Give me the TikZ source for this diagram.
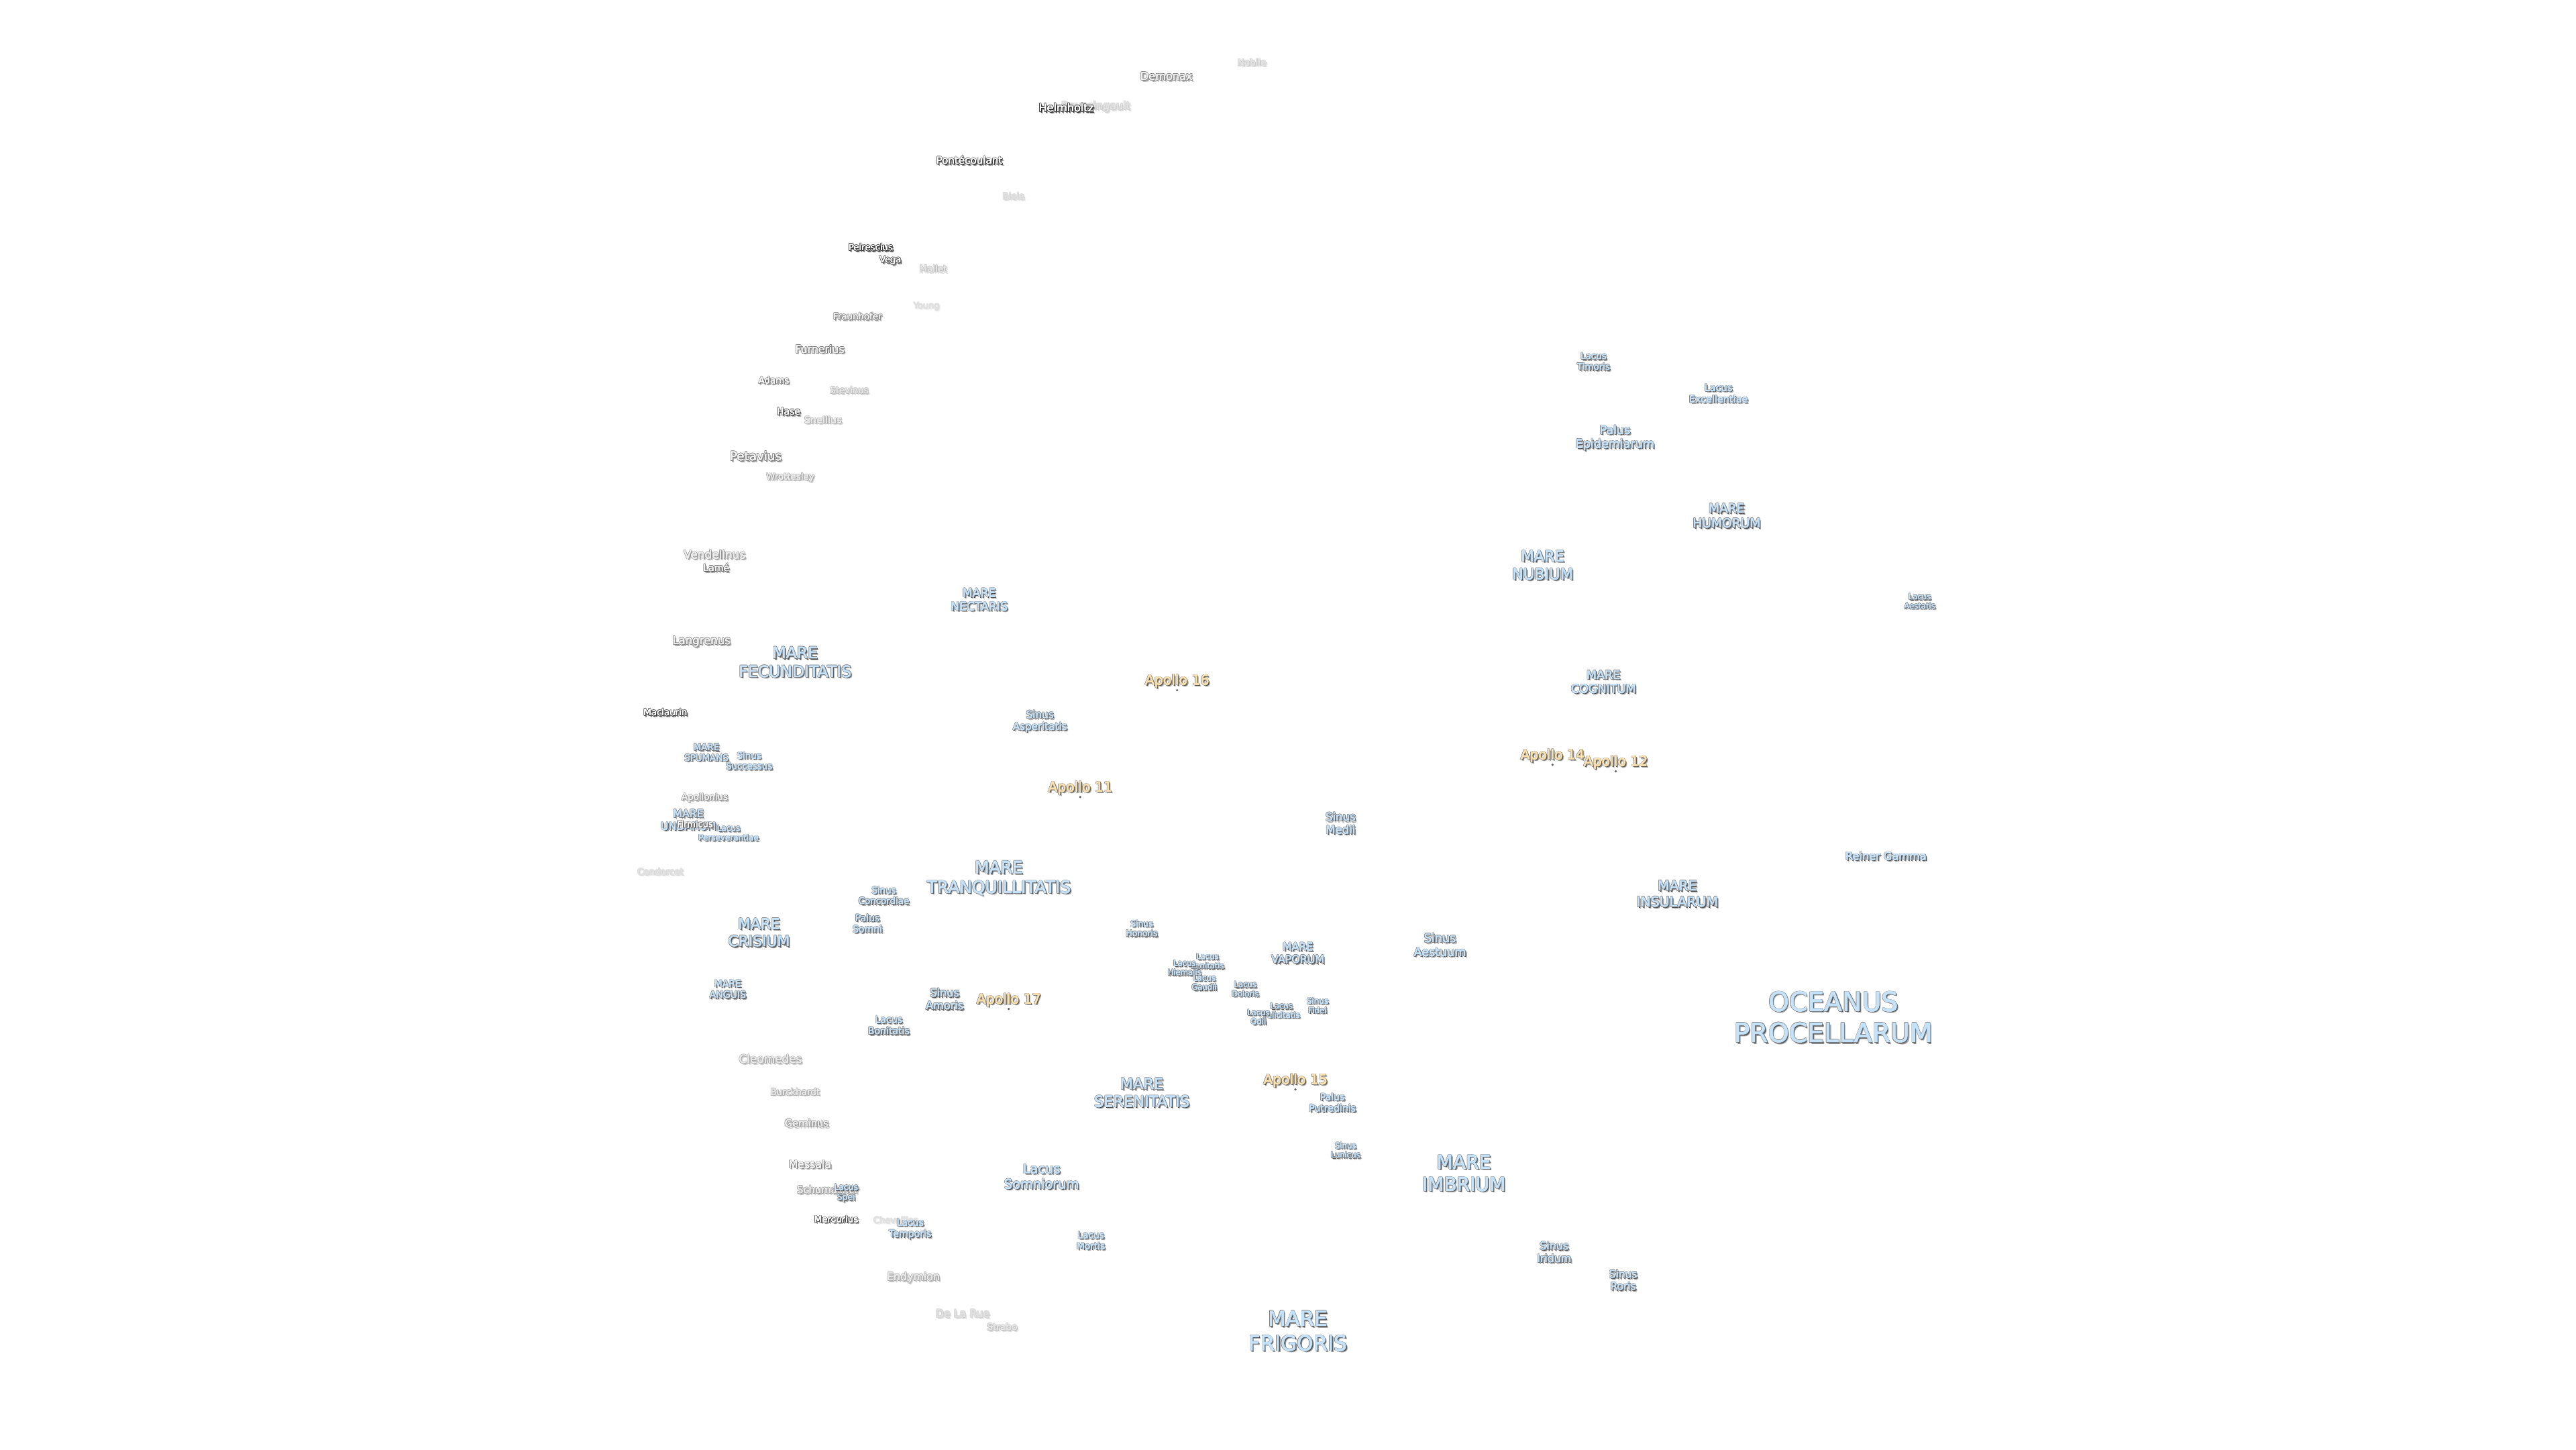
\documentclass[tikz,border=0pt]{standalone}
\usepackage{fontspec}
\setmainfont{DejaVu Sans}
\definecolor{oceanfill}{RGB}{196,226,250}
\definecolor{sitefill}{RGB}{250,224,172}
\tikzset{
  lbl/.style={inner sep=0pt, align=center, font=\fontsize{#1}{\fpeval{1.18*#1}}\selectfont},
  sitedot/.style={circle, inner sep=0pt, minimum size=1pt, fill=black!65},
}
% one label: soft shadow, hard shadow, halo of eight copies, fill on top
\newcommand{\lblstack}[5]{%
  \node[lbl=#4, text=lblsoft] at ([shift={(0.75pt,-0.75pt)}]#2,#3) {#5};
  \node[lbl=#4, text=lblshade] at ([shift={(0.45pt,-0.45pt)}]#2,#3) {#5};
  \foreach \hx/\hy in {0.27/0,-0.27/0,0/0.27,0/-0.27,0.19/0.19,-0.19/0.19,0.19/-0.19,-0.19/-0.19}
    \node[lbl=#4, text=lblhalo] at ([shift={(\hx pt,\hy pt)}]#2,#3) {#5};
  \foreach \hx/\hy in {0.07/0,-0.07/0,0/0.07,0/-0.07}
    \node[lbl=#4, text=lblfill] at ([shift={(\hx pt,\hy pt)}]#2,#3) {#5};
  \node[lbl=#4, text=lblfill] (#1) at (#2,#3) {#5};
}
\newcommand{\marelabel}[5]{%
  \colorlet{lblsoft}{black!35}\colorlet{lblshade}{black!70}\colorlet{lblhalo}{black!50}\colorlet{lblfill}{oceanfill}%
  \lblstack{#1}{#2}{#3}{#4}{#5}}
\newcommand{\sitelabel}[5]{%
  \colorlet{lblsoft}{black!35}\colorlet{lblshade}{black!70}\colorlet{lblhalo}{black!50}\colorlet{lblfill}{sitefill}%
  \node[sitedot] (#1site) at (#2,#3+5.4) {};
  \lblstack{#1}{#2}{#3}{#4}{#5}}
% last but one argument: strength of the crater name in percent
\newcommand{\craterlabel}[6]{%
  \colorlet{lblsoft}{black!45!white}\colorlet{lblshade}{black!75!white}\colorlet{lblhalo}{black!85!white}%
  \colorlet{lblsoft}{lblsoft!#5!white}\colorlet{lblshade}{lblshade!#5!white}\colorlet{lblhalo}{lblhalo!#5!white}%
  \colorlet{lblfill}{black!14!white}\colorlet{lblfill}{lblfill!\fpeval{100-#5}!white}%
  \lblstack{#1}{#2}{#3+0.5}{#4}{#6}}
\begin{document}
\begin{tikzpicture}[x=0.02449cm, y=-0.02449cm]
\useasboundingbox (0,0) rectangle (1568,882);
% craters
\craterlabel{noble}{762}{37.5}{3.85}{25}{Nobile}
\craterlabel{demonax}{710}{46}{4.6}{55}{Demonax}
\craterlabel{boussingault}{667}{64.5}{4.55}{22}{Boussingault}
\craterlabel{pontecoulant}{590}{97}{4.3}{95}{Pontécoulant}
\craterlabel{biela}{617}{119}{3.8}{18}{Biela}
\craterlabel{mallet}{568}{163}{3.8}{28}{Mallet}
\craterlabel{young}{564}{186}{3.7}{10}{Young}
\craterlabel{fraunhofer}{522}{192}{3.8}{55}{Fraunhofer}
\craterlabel{furnerius}{499}{212}{4.5}{65}{Furnerius}
\craterlabel{adams}{471}{231}{3.8}{70}{Adams}
\craterlabel{stevinus}{517}{237}{3.8}{28}{Stevinus}
\craterlabel{hase}{480}{250}{4}{85}{Hase}
\craterlabel{snellius}{501}{255}{4.1}{38}{Snellius}
\craterlabel{petavius}{460}{277}{5.2}{60}{Petavius}
\craterlabel{wrottesley}{481}{290}{3.8}{45}{Wrottesley}
\craterlabel{vendelinus}{435}{337}{4.8}{50}{Vendelinus}
\craterlabel{lame}{436}{345}{4}{70}{Lamé}
\craterlabel{langrenus}{427}{390}{4.7}{55}{Langrenus}
\craterlabel{maclaurin}{405}{433}{3.8}{90}{Maclaurin}
\craterlabel{apollonius}{429}{485}{3.8}{50}{Apollonius}
\craterlabel{condorcet}{402}{530}{3.8}{18}{Condorcet}
\craterlabel{cleomedes}{469}{644}{4.8}{38}{Cleomedes}
\craterlabel{burckhardt}{484}{664}{3.8}{38}{Burckhardt}
\craterlabel{geminus}{491}{683}{4.2}{50}{Geminus}
\craterlabel{messala}{493}{708}{4.5}{60}{Messala}
\craterlabel{schumacher}{504}{723.5}{4.2}{45}{Schumacher}
\craterlabel{mercurius}{509}{741.5}{3.8}{90}{Mercurius}
\craterlabel{chevallier}{545}{742}{3.7}{12}{Chevallier}
\craterlabel{endymion}{556}{777}{4.5}{38}{Endymion}
\craterlabel{delarue}{586}{799}{4.5}{20}{De La Rue}
\craterlabel{strabo}{610}{807}{3.9}{28}{Strabo}
\craterlabel{helmholtz}{649}{65}{4.6}{100}{Helmholtz}
\craterlabel{peirescius}{530}{150}{3.8}{100}{Peirescius}
\craterlabel{vega}{542}{158}{3.7}{85}{Vega}
% maria
\marelabel{procellarum}{1116}{619}{11.2}{OCEANUS\\PROCELLARUM}
\marelabel{frigoris}{790}{810}{8.8}{MARE\\FRIGORIS}
\marelabel{imbrium}{891}{714}{8}{MARE\\IMBRIUM}
\marelabel{serenitatis}{695}{665}{6.4}{MARE\\SERENITATIS}
\marelabel{tranquillitatis}{608}{534.5}{7.1}{MARE\\TRANQUILLITATIS}
\marelabel{fecunditatis}{484}{403}{6.7}{MARE\\FECUNDITATIS}
\marelabel{nubium}{939}{344}{6.4}{MARE\\NUBIUM}
\marelabel{cognitum}{976}{415}{5}{MARE\\COGNITUM}
\marelabel{humorum}{1051}{314}{5.3}{MARE\\HUMORUM}
\marelabel{insularum}{1021}{544}{5.8}{MARE\\INSULARUM}
\marelabel{nectaris}{596}{365}{4.9}{MARE\\NECTARIS}
\marelabel{crisium}{462}{567.5}{6.2}{MARE\\CRISIUM}
\marelabel{anguis}{443}{602}{4}{MARE\\ANGUIS}
\marelabel{vaporum}{790}{580}{4.5}{MARE\\VAPORUM}
\marelabel{spumans}{430}{458}{3.8}{MARE\\SPUMANS}
\marelabel{undarum}{419}{499}{4.5}{MARE\\UNDARUM}
% sinus
\marelabel{aestuum}{876.5}{575}{5}{Sinus\\Aestuum}
\marelabel{medii}{816}{501}{4.7}{Sinus\\Medii}
\marelabel{asperitatis}{633}{439}{4.3}{Sinus\\Asperitatis}
\marelabel{successus}{456}{463}{3.8}{Sinus\\Successus}
\marelabel{concordiae}{538}{545}{3.8}{Sinus\\Concordiae}
\marelabel{honoris}{695}{565}{3.5}{Sinus\\Honoris}
\marelabel{amoris}{575}{608}{4.6}{Sinus\\Amoris}
\marelabel{fidei}{802}{612}{3.4}{Sinus\\Fidei}
\marelabel{iridum}{946}{762}{4.5}{Sinus\\Iridum}
\marelabel{roris}{988}{779}{4.4}{Sinus\\Roris}
\marelabel{lunicus}{819}{700}{3.3}{Sinus\\Lunicus}
% paludes
\marelabel{epidemiarum}{983}{266.5}{5}{Palus\\Epidemiarum}
\marelabel{somni}{528}{562}{4}{Palus\\Somni}
\marelabel{putredinis}{811}{671}{4}{Palus\\Putredinis}
% lacus
\marelabel{timoris}{970}{220}{3.8}{Lacus\\Timoris}
\marelabel{excellentiae}{1046}{239.5}{4.1}{Lacus\\Excellentiae}
\marelabel{aestatis}{1168.5}{366}{3.3}{Lacus\\Aestatis}
\marelabel{perseverantiae}{443.5}{507}{3.4}{Lacus\\Perseverantiae}
\marelabel{bonitatis}{541}{624}{4}{Lacus\\Bonitatis}
\marelabel{lenitatis}{735}{585}{3.3}{Lacus\\Lenitatis}
\marelabel{hiemalis}{721}{589}{3.3}{Lacus\\Hiemalis}
\marelabel{gaudii}{733}{598}{3.3}{Lacus\\Gaudii}
\marelabel{doloris}{758}{602}{3.3}{Lacus\\Doloris}
\marelabel{felicitatis}{780}{615}{3.3}{Lacus\\Felicitatis}
\marelabel{odii}{766}{619}{3.3}{Lacus\\Odii}
\marelabel{somniorum}{634}{716}{5.5}{Lacus\\Somniorum}
\marelabel{temporis}{554}{748}{4}{Lacus\\Temporis}
\marelabel{mortis}{664}{755}{3.9}{Lacus\\Mortis}
\marelabel{spei}{515}{726}{3.5}{Lacus\\Spei}
\craterlabel{firmicus}{423}{501}{3.7}{80}{Firmicus}
\marelabel{reinergamma}{1148}{521}{4.6}{Reiner Gamma}
% landing sites
\sitelabel{apolloxi}{657.5}{479.6}{5.8}{Apollo 11}
\sitelabel{apolloxii}{983.5}{464}{5.8}{Apollo 12}
\sitelabel{apolloxiv}{945}{460}{5.8}{Apollo 14}
\sitelabel{apolloxv}{788.5}{657.6}{5.8}{Apollo 15}
\sitelabel{apollofxvi}{716.5}{414.6}{5.8}{Apollo 16}
\sitelabel{apolloxvii}{614}{608.6}{5.8}{Apollo 17}
\end{tikzpicture}
\end{document}
